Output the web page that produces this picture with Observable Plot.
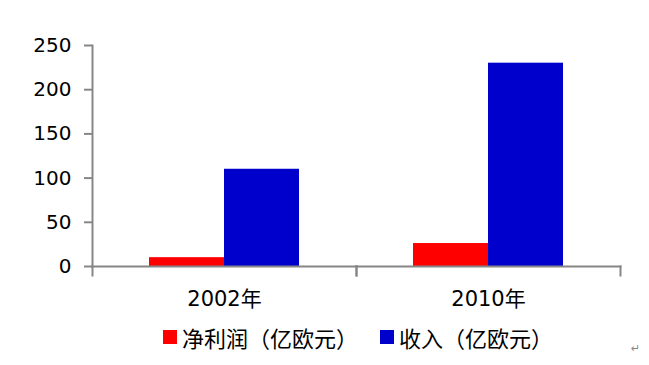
<!DOCTYPE html>
<html>
<head>
<meta charset="utf-8">
<script src="https://cdn.jsdelivr.net/npm/d3@7"></script>
<script src="https://cdn.jsdelivr.net/npm/@observablehq/plot@0.6"></script>
<style>
  html, body { margin: 0; padding: 0; background: #fff; }
  #wrap { position: relative; width: 649px; height: 365px; font-family: "DejaVu Sans", "Noto Sans CJK SC", sans-serif; }
  #legend { position: absolute; left: 163px; top: 321px; display: flex; gap: 22px; font-size: 22px; font-family: "Noto Sans CJK SC", sans-serif; color: #000; }
  .item { display: flex; align-items: center; gap: 5px; }
  .sw { width: 14px; height: 14px; display: inline-block; }
  #mark { position: absolute; left: 631px; top: 342px; font-size: 11px; color: #888; }
</style>
</head>
<body>
<div id="wrap">
  <div id="chart"></div>
  <div id="legend"></div>
  <div id="mark">↵</div>
</div>
<script>
const years = ["2002年", "2010年"];
const seriesNames = ["净利润（亿欧元）", "收入（亿欧元）"];
const seriesColors = ["#FF0000", "#0000CC"];
const netProfit = [10, 26];
const revenue = [110, 230];
const yTicks = [0, 50, 100, 150, 200, 250];

const data = [];
years.forEach((y, i) => {
  data.push({year: y, series: seriesNames[0], value: netProfit[i]});
  data.push({year: y, series: seriesNames[1], value: revenue[i]});
});

const chart = Plot.plot({
  width: 649,
  height: 318,
  marginLeft: 92,
  marginRight: 29,
  marginTop: 45,
  marginBottom: 52,
  style: {fontFamily: "DejaVu Sans, Noto Sans CJK SC, sans-serif", fontSize: "20px", color: "#000", background: "#fff"},
  fx: {domain: years, padding: 0, label: null},
  x: {domain: seriesNames, paddingInner: 0, paddingOuter: 0.76, axis: null},
  y: {domain: [0, 250], ticks: yTicks, label: null},
  color: {domain: seriesNames, range: seriesColors},
  marks: [
    Plot.barY(data, {fx: "year", x: "series", y: "value", fill: "series"}),
    Plot.axisY({ticks: yTicks, tickSize: 8, tickPadding: 13, stroke: "#868686", strokeWidth: 2, fontSize: 20, fill: "#000"}),
    Plot.axisFx({anchor: "bottom", tickSize: 0, tickPadding: 25, fontSize: 21, fill: "#000", label: null}),
    Plot.frame({anchor: "left", facet: "super", stroke: "#868686", strokeWidth: 2}),
    Plot.frame({anchor: "bottom", stroke: "#868686", strokeWidth: 2}),
    Plot.frame({anchor: "left", stroke: "#868686", strokeWidth: 2, insetTop: 221, insetBottom: -9}),
    Plot.frame({anchor: "right", stroke: "#868686", strokeWidth: 2, insetTop: 221, insetBottom: -9})
  ]
});
document.getElementById("chart").appendChild(chart);

const legend = document.getElementById("legend");
seriesNames.forEach((n, i) => {
  const it = document.createElement("div");
  it.className = "item";
  const sw = document.createElement("span");
  sw.className = "sw";
  sw.style.background = seriesColors[i];
  const t = document.createElement("span");
  t.textContent = n;
  it.appendChild(sw);
  it.appendChild(t);
  legend.appendChild(it);
});
</script>
</body>
</html>
